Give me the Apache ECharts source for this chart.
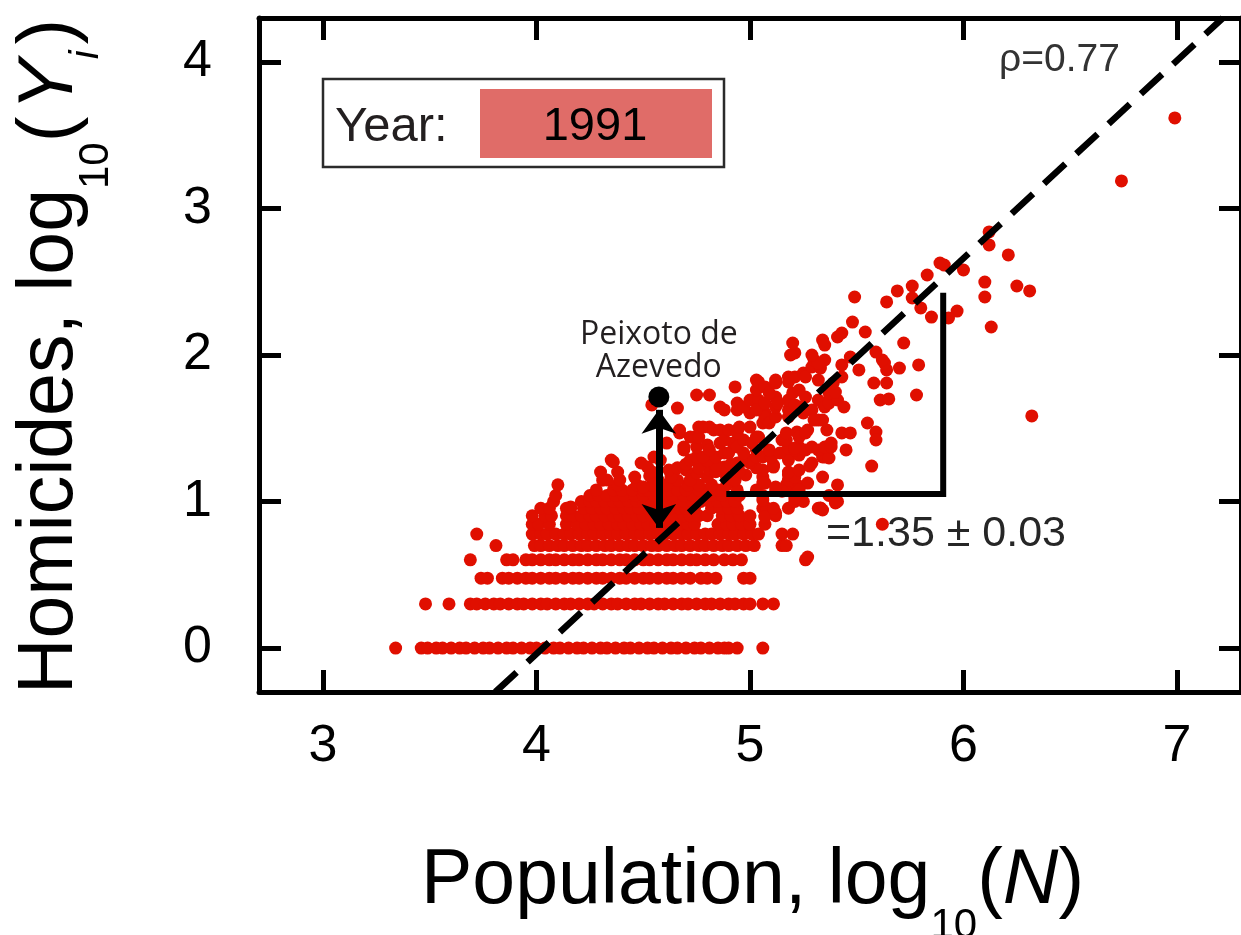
<!DOCTYPE html>
<html>
<head>
<meta charset="utf-8">
<title>Homicides vs population, 1991</title>
<script src="https://cdn.jsdelivr.net/npm/echarts@6/dist/echarts.min.js"></script>
<style>
  html, body { margin: 0; padding: 0; background: #fff; }
  #chart { width: 1241px; height: 935px; }
</style>
</head>
<body>
<div id="chart"></div>
<script>
const xTicks = [3, 4, 5, 6, 7];
const yTicks = [0, 1, 2, 3, 4];

// low counts sit on rows: log10 of 1, 2, 3 ... 12 homicides
const rowLevels = [0, 0.301, 0.477, 0.602, 0.699, 0.778, 0.845, 0.903, 0.954, 1.0, 1.041, 1.079];
const row1 = [3.34, 3.46, 3.49, 3.53, 3.56, 3.60, 3.64, 3.67, 3.71, 3.75, 3.78, 3.82, 3.86, 3.89, 3.93, 3.97, 4.00, 4.04, 4.08, 4.11, 4.15, 4.19, 4.22, 4.26, 4.30, 4.33, 4.37, 4.41, 4.44, 4.48, 4.52, 4.55, 4.59, 4.63, 4.66, 4.70, 4.74, 4.77, 4.81, 4.85, 4.88, 4.90, 4.94, 5.06];
const row2 = [3.48, 3.59, 3.69, 3.72, 3.76, 3.80, 3.83, 3.87, 3.91, 3.94, 3.98, 4.02, 4.05, 4.09, 4.13, 4.16, 4.20, 4.24, 4.27, 4.31, 4.35, 4.38, 4.42, 4.46, 4.49, 4.53, 4.57, 4.60, 4.64, 4.68, 4.71, 4.75, 4.79, 4.82, 4.86, 4.90, 4.93, 4.97, 5.00, 5.06, 5.11];
const row3 = [3.74, 3.77, 3.84, 3.87, 3.91, 3.95, 3.98, 4.02, 4.06, 4.09, 4.13, 4.17, 4.20, 4.24, 4.28, 4.31, 4.35, 4.39, 4.42, 4.46, 4.50, 4.53, 4.57, 4.61, 4.64, 4.68, 4.72, 4.77, 4.80, 4.84, 4.97, 5.00];
const row4 = [3.69, 3.86, 3.89, 3.95, 3.98, 4.02, 4.06, 4.09, 4.13, 4.17, 4.20, 4.24, 4.28, 4.31, 4.35, 4.39, 4.42, 4.46, 4.50, 4.53, 4.57, 4.61, 4.64, 4.68, 4.72, 4.75, 4.79, 4.83, 4.88, 4.92, 4.96, 5.26];
const row5 = [3.81, 3.99, 4.02, 4.06, 4.10, 4.13, 4.17, 4.21, 4.24, 4.28, 4.32, 4.35, 4.39, 4.43, 4.46, 4.50, 4.54, 4.57, 4.61, 4.65, 4.68, 4.72, 4.76, 4.79, 4.83, 4.87, 4.90, 4.94, 4.98, 5.02, 5.15, 5.17];
const row6 = [3.72, 3.98, 4.02, 4.05, 4.09, 4.13, 4.16, 4.20, 4.24, 4.27, 4.31, 4.35, 4.38, 4.42, 4.46, 4.49, 4.53, 4.57, 4.60, 4.64, 4.68, 4.71, 4.75, 4.79, 4.82, 4.86, 4.90, 4.93, 4.97, 5.01, 5.04, 5.15, 5.20];
const row7 = [3.98, 4.01, 4.06, 4.14, 4.19, 4.23, 4.27, 4.30, 4.34, 4.38, 4.41, 4.45, 4.49, 4.52, 4.56, 4.60, 4.63, 4.67, 4.71, 4.74, 4.85, 4.89, 4.92, 4.96, 5.00, 5.07, 5.62];
const row8 = [3.98, 4.04, 4.07, 4.14, 4.17, 4.21, 4.25, 4.28, 4.32, 4.36, 4.39, 4.43, 4.47, 4.50, 4.54, 4.58, 4.61, 4.65, 4.69, 4.72, 4.76, 4.80, 4.87, 4.91, 4.95, 5.00, 5.07, 5.12];
const row9 = [4.02, 4.06, 4.14, 4.16, 4.22, 4.26, 4.30, 4.33, 4.37, 4.41, 4.44, 4.48, 4.52, 4.55, 4.59, 4.63, 4.67, 4.70, 4.74, 4.82, 4.86, 4.90, 4.94, 5.06, 5.08, 5.18, 5.32, 5.33];
const row10 = [4.08, 4.21, 4.25, 4.28, 4.32, 4.36, 4.39, 4.43, 4.47, 4.50, 4.54, 4.58, 4.62, 4.66, 4.69, 4.73, 4.77, 4.81, 4.85, 4.89, 4.93, 5.21, 5.25, 5.41];
const row11 = [4.09, 4.25, 4.29, 4.33, 4.37, 4.41, 4.46, 4.50, 4.55, 4.60, 4.64, 4.69, 4.73, 4.78, 4.82, 4.87, 4.95, 5.06, 5.37];
const row12 = [4.28, 4.36, 4.40, 4.45, 4.50, 4.52, 4.56, 4.62, 4.66, 4.70, 4.76, 4.80, 4.85, 4.94, 5.03, 5.12, 5.17, 5.22];
const rows = [row1, row2, row3, row4, row5, row6, row7, row8, row9, row10, row11, row12];

// cities above the rows, [log10 N, log10 Y]
const upperCities = [
  [4.10, 1.114], [4.38, 1.114], [4.47, 1.114], [4.54, 1.114], [4.61, 1.114], [4.71, 1.114], [4.76, 1.114], [4.82, 1.114], [4.89, 1.114], [5.06, 1.126], [5.41, 1.113], [5.17, 1.113], [5.22, 1.113], [5.27, 1.126],
  [4.31, 1.146], [4.33, 1.147], [4.39, 1.147], [4.46, 1.167], [4.57, 1.146], [4.66, 1.146], [4.72, 1.146], [4.80, 1.167], [4.89, 1.167], [4.93, 1.146], [4.98, 1.181], [5.06, 1.167], [5.18, 1.147], [5.34, 1.167],
  [4.53, 1.176], [4.63, 1.167], [4.75, 1.195], [5.18, 1.181], [5.21, 1.167],
  [4.30, 1.201], [4.38, 1.201], [4.54, 1.204], [4.70, 1.215], [4.81, 1.215], [4.84, 1.204], [4.95, 1.204], [5.06, 1.215], [5.18, 1.201], [5.23, 1.215],
  [4.52, 1.235], [4.62, 1.215], [4.66, 1.230], [4.69, 1.235], [4.76, 1.230], [4.87, 1.230], [4.88, 1.235], [4.94, 1.249], [5.03, 1.230], [5.11, 1.249], [5.11, 1.235], [5.28, 1.242], [5.29, 1.263], [5.57, 1.242],
  [4.49, 1.263], [4.70, 1.255], [4.84, 1.249], [4.91, 1.255], [4.94, 1.263], [5.00, 1.263], [5.00, 1.283],
  [4.35, 1.283], [4.36, 1.270], [4.58, 1.283], [4.72, 1.283], [4.80, 1.279], [4.96, 1.270], [5.18, 1.283], [5.23, 1.317],
  [4.55, 1.304], [4.75, 1.304], [4.78, 1.304], [4.84, 1.304], [4.88, 1.331], [4.90, 1.331], [4.97, 1.331], [5.03, 1.304], [5.06, 1.304], [5.10, 1.300], [5.34, 1.304], [5.35, 1.304], [5.37, 1.297],
  [4.61, 1.399], [4.69, 1.352], [4.69, 1.372], [4.75, 1.372], [4.80, 1.386], [4.81, 1.352], [4.86, 1.399], [4.92, 1.399], [4.94, 1.372], [4.97, 1.420], [5.01, 1.399], [5.03, 1.352], [5.03, 1.440], [5.09, 1.352],
  [5.14, 1.331], [5.15, 1.420], [5.18, 1.365], [5.17, 1.420], [5.21, 1.352], [5.23, 1.372], [5.26, 1.352], [5.29, 1.372], [5.32, 1.352], [5.35, 1.372], [5.38, 1.372], [5.38, 1.399], [5.45, 1.352], [5.21, 1.365],
  [4.67, 1.468], [4.67, 1.488], [4.72, 1.440], [4.74, 1.440], [4.76, 1.440], [4.76, 1.508], [4.78, 1.508], [4.81, 1.508], [4.83, 1.488], [4.86, 1.488], [4.88, 1.420], [4.90, 1.488], [4.94, 1.468], [4.95, 1.508], [5.00, 1.508], [5.04, 1.440],
  [5.17, 1.468], [5.22, 1.474], [5.23, 1.440], [5.27, 1.488], [5.36, 1.488], [5.26, 1.468], [5.43, 1.468], [5.47, 1.468], [5.59, 1.474], [5.59, 1.420],
  [5.00, 1.604], [5.06, 1.536], [5.07, 1.604], [5.07, 1.577], [5.09, 1.536], [5.12, 1.577], [5.18, 1.577], [5.18, 1.625], [5.23, 1.645], [5.25, 1.604], [5.29, 1.625], [5.32, 1.556], [5.34, 1.556], [5.55, 1.536], [5.30, 1.556],
  [4.54, 1.659], [4.66, 1.638], [4.86, 1.645], [4.88, 1.625], [4.94, 1.625], [4.94, 1.672], [4.97, 1.645], [5.00, 1.693], [5.04, 1.693], [5.03, 1.625], [5.07, 1.672], [5.12, 1.713], [5.12, 1.645], [5.13, 1.672],
  [5.18, 1.693], [5.21, 1.659], [5.26, 1.713], [5.32, 1.693], [5.34, 1.672], [5.35, 1.645], [5.37, 1.672], [5.41, 1.693], [5.44, 1.645],
  [4.75, 1.727], [4.81, 1.727], [4.93, 1.782], [5.03, 1.829], [5.03, 1.761], [5.04, 1.816], [5.07, 1.782], [5.09, 1.741], [5.12, 1.809], [5.12, 1.829], [5.18, 1.816], [5.18, 1.850], [5.20, 1.741],
  [5.21, 1.850], [5.23, 1.761], [5.25, 1.877], [5.26, 1.850], [5.29, 1.918], [5.32, 1.829], [5.35, 1.966], [5.37, 1.741], [5.40, 1.747], [5.39, 1.809], [5.43, 1.850], [5.61, 1.693], [5.65, 1.700], [5.78, 1.727],
  [5.58, 1.809], [5.64, 1.809], [5.33, 1.911], [5.30, 1.966], [5.43, 1.932], [5.51, 1.898], [5.64, 1.898], [5.70, 1.911], [5.79, 1.932],
  [5.63, 1.945], [5.62, 1.966], [5.47, 1.986], [5.32, 1.945], [5.29, 2.000], [5.21, 2.014], [5.59, 2.020], [5.19, 2.000],
  [5.20, 2.082], [5.34, 2.102], [5.35, 2.068], [5.41, 2.123], [5.43, 2.150], [5.54, 2.157], [5.48, 2.225], [5.72, 2.082],
  [5.64, 2.362], [5.69, 2.437], [5.76, 2.471], [5.83, 2.546], [5.89, 2.628], [5.49, 2.396], [5.80, 2.321], [5.76, 2.389], [5.85, 2.259],
  [5.91, 2.614], [5.97, 2.300], [5.93, 2.253], [6.00, 2.580], [6.10, 2.498], [6.10, 2.396], [6.12, 2.840], [6.12, 2.751], [6.21, 2.683],
  [6.13, 2.191], [6.25, 2.471], [6.31, 2.437], [6.32, 1.584], [6.74, 3.188], [6.99, 3.618],
  [5.08, 0.942], [5.07, 0.894], [5.12, 0.922], [5.40, 0.990], [5.21, 1.024], [5.11, 0.954], [5.06, 1.010], [5.33, 0.956], [5.07, 1.126], [5.15, 1.070],
  [5.12, 1.099], [5.23, 1.078], [5.27, 0.621], [5.34, 0.942], [4.16, 0.963], [4.50, 1.099]
];

const peixoto = [4.573, 1.714];
const arrowFrom = [4.573, 0.82];
const arrowTo = [4.573, 1.626];
const fitLine = [[3.807, -0.30], [7.215, 4.30]];
const slopeLeg = [[4.889, 1.052], [5.905, 1.052], [5.905, 2.425]];
const yearText = '1991';
const rhoText = 'ρ=0.77';
const slopeText = '=1.35 ± 0.03';

const cities = [];
rows.forEach(function (xs, i) {
  xs.forEach(function (x) { cities.push([x, rowLevels[i]]); });
});
upperCities.forEach(function (p) { cities.push(p); });

const FONT = '"Liberation Sans", Arial, sans-serif';
const measureCtx = document.createElement('canvas').getContext('2d');
function textWidth(str, font) {
  measureCtx.font = font;
  return measureCtx.measureText(str).width;
}
// axis titles with subscripts, laid out piece by piece
function titlePieces(parts) {
  let x = 0;
  const children = [];
  parts.forEach(function (p) {
    x += p.gap || 0;
    children.push({
      type: 'text', x: x, y: p.dy || 0, silent: true,
      style: { text: p.text, font: p.font, fill: '#000', align: 'left', verticalAlign: 'middle' }
    });
    x += textWidth(p.text, p.font);
  });
  return children;
}
const mainFont = '77px ' + FONT;
const subFont = '42px ' + FONT;
const italicFont = 'italic 77px ' + FONT;
const italicSub = 'italic 40px ' + FONT;

const axisCommon = {
  type: 'value',
  axisLine: { show: true, onZero: false, lineStyle: { color: '#000', width: 5 } },
  splitLine: { show: false }
};
function tickStyle(values) {
  return { show: true, inside: true, length: 22, customValues: values, lineStyle: { color: '#000', width: 5 } };
}

const chart = echarts.init(document.getElementById('chart'));
chart.setOption({
  animation: false,
  grid: { left: 259, top: 18, width: 991, height: 674 },
  xAxis: [
    Object.assign({}, axisCommon, {
      position: 'bottom', min: 2.7, max: 7.3,
      axisTick: tickStyle(xTicks),
      axisLabel: { customValues: xTicks, margin: 29, fontSize: 52, fontFamily: FONT, color: '#000' }
    }),
    Object.assign({}, axisCommon, {
      position: 'top', min: 2.7, max: 7.3,
      axisTick: tickStyle(xTicks),
      axisLabel: { show: false }
    })
  ],
  yAxis: [
    Object.assign({}, axisCommon, {
      position: 'left', min: -0.3, max: 4.3,
      axisTick: tickStyle(yTicks),
      axisLabel: { customValues: yTicks, margin: 47, fontSize: 52, fontFamily: FONT, color: '#000' }
    }),
    Object.assign({}, axisCommon, {
      position: 'right', min: -0.3, max: 4.3,
      axisTick: tickStyle(yTicks),
      axisLabel: { show: false }
    })
  ],
  series: [
    {
      name: 'cities', type: 'scatter', data: cities,
      symbolSize: 13, silent: true, z: 2,
      itemStyle: { color: '#e00f00', opacity: 1 }
    },
    {
      name: 'fit', type: 'line', data: fitLine, symbol: 'none', silent: true, z: 4,
      lineStyle: { color: '#000', width: 6.5, type: [29, 15], cap: 'butt' }
    },
    {
      name: 'slope', type: 'line', data: slopeLeg, symbol: 'none', silent: true, z: 4,
      lineStyle: { color: '#000', width: 6, cap: 'butt', join: 'miter' }
    },
    {
      name: 'Peixoto de Azevedo', type: 'scatter', data: [peixoto],
      symbolSize: 21, silent: true, z: 6,
      itemStyle: { color: '#000', opacity: 1 },
      label: {
        show: true, position: 'top', distance: 2,
        formatter: 'Peixoto de\nAzevedo',
        fontFamily: '"Open Sans", "Noto Sans", sans-serif', fontSize: 32, lineHeight: 33,
        color: '#231f20', align: 'center'
      },
      markLine: {
        silent: true, animation: false,
        symbol: ['arrow', 'arrow'], symbolSize: [26, 24],
        label: { show: false },
        lineStyle: { color: '#000', width: 7, type: 'solid' },
        data: [[{ coord: arrowFrom }, { coord: arrowTo }]]
      }
    }
  ],
  graphic: [
    { type: 'rect', silent: true, shape: { x: 323, y: 79, width: 401, height: 88 },
      style: { fill: '#fff', stroke: '#2b2b2b', lineWidth: 2.5 } },
    { type: 'rect', silent: true, shape: { x: 480, y: 89, width: 232, height: 69 },
      style: { fill: '#e06c68' } },
    { type: 'text', silent: true, x: 335, y: 127,
      style: { text: 'Year:', font: '49px ' + FONT, fill: '#231f20', align: 'left', verticalAlign: 'middle' } },
    { type: 'text', silent: true, x: 595, y: 127,
      style: { text: yearText, font: '47px ' + FONT, fill: '#000', align: 'center', verticalAlign: 'middle' } },
    { type: 'text', silent: true, x: 999, y: 60,
      style: { text: rhoText, font: '39px ' + FONT, fill: '#333', align: 'left', verticalAlign: 'middle' } },
    { type: 'text', silent: true, x: 826, y: 534,
      style: { text: slopeText, font: '43px ' + FONT, fill: '#262626', align: 'left', verticalAlign: 'middle' } },
    {
      type: 'group', x: 421, y: 882,
      children: titlePieces([
        { text: 'Population, log', font: mainFont },
        { text: '10', font: subFont, dy: 44 },
        { text: '(', font: mainFont },
        { text: 'N', font: italicFont },
        { text: ')', font: mainFont }
      ])
    },
    {
      type: 'group', x: 51, y: 694, rotation: Math.PI / 2,
      children: titlePieces([
        { text: 'Homicides, log', font: mainFont },
        { text: '10', font: subFont, dy: 45 },
        { text: '(', font: mainFont },
        { text: 'Y', font: italicFont, gap: 6 },
        { text: 'i', font: italicSub, dy: 36 },
        { text: ')', font: mainFont, gap: 6 }
      ])
    }
  ]
});
</script>
</body>
</html>
